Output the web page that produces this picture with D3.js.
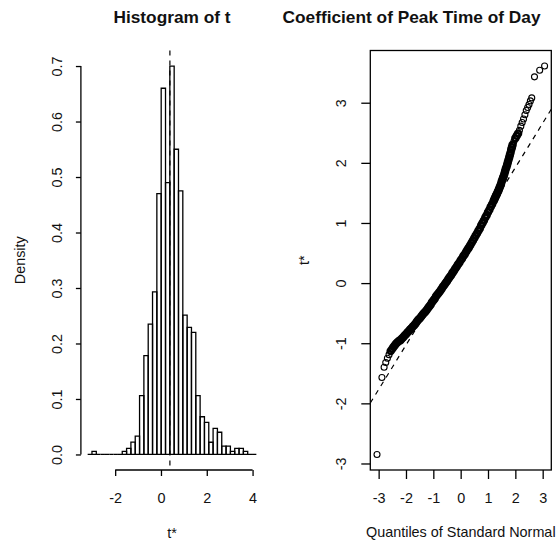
<!DOCTYPE html>
<html>
<head>
<meta charset="utf-8">
<script src="https://cdn.jsdelivr.net/npm/d3@7"></script>
<style>
  body { margin: 0; background: #fff; }
  text { font-family: "Liberation Sans", Arial, sans-serif; fill: #111; }
</style>
</head>
<body>
<svg id="chart"></svg>
<script>
// histogram of bootstrap replicates (density per bin)
const histBinStart = -3.202;
const histBinWidth = 0.1889;
const histDensity = [
  0, 0.0056, 0, 0, 0, 0, 0, 0,
  0.0056, 0.0111, 0.0223, 0.033, 0.106, 0.178, 0.235, 0.293,
  0.47, 0.66, 0.49, 0.70, 0.55, 0.475,
  0.251, 0.229, 0.22, 0.106, 0.068, 0.058, 0.022, 0.047, 0.040,
  0.015, 0.015, 0.0056, 0.011, 0.011, 0.0056, 0, 0
];
const tObserved = 0.39;
const histTicksX = [-2, 0, 2, 4];
const histTicksY = [0, 0.1, 0.2, 0.3, 0.4, 0.5, 0.6, 0.7];

// normal QQ plot: [theoretical quantile, t*]
const qqPoints = [
  [-3.06, -2.85],
  [-2.88, -1.57], [-2.80, -1.40], [-2.74, -1.32], [-2.68, -1.25], [-2.62, -1.19],
  [-2.56, -1.13], [-2.50, -1.09], [-2.45, -1.06], [-2.40, -1.03], [-2.35, -1.00],
  [-2.30, -0.98], [-2.25, -0.96],
  [-2.20, -0.95], [-2.15, -0.92], [-2.10, -0.90], [-2.05, -0.87], [-2.00, -0.85],
  [-1.95, -0.82], [-1.90, -0.80], [-1.85, -0.77], [-1.80, -0.75], [-1.75, -0.72],
  [-1.70, -0.70], [-1.65, -0.67], [-1.60, -0.64], [-1.55, -0.61], [-1.50, -0.59],
  [-1.45, -0.56], [-1.40, -0.53], [-1.35, -0.50], [-1.30, -0.48], [-1.25, -0.45],
  [-1.20, -0.42], [-1.15, -0.39], [-1.10, -0.36], [-1.05, -0.32], [-1.00, -0.29],
  [-0.95, -0.26], [-0.90, -0.22], [-0.85, -0.19], [-0.80, -0.16], [-0.75, -0.13],
  [-0.70, -0.10], [-0.65, -0.06], [-0.60, -0.03], [-0.55, 0.00], [-0.50, 0.03],
  [-0.45, 0.07], [-0.40, 0.10], [-0.35, 0.13], [-0.30, 0.17], [-0.25, 0.20],
  [-0.20, 0.24], [-0.15, 0.27], [-0.10, 0.31], [-0.05, 0.34], [0.00, 0.38],
  [0.05, 0.41], [0.10, 0.45], [0.15, 0.48], [0.20, 0.52], [0.25, 0.56],
  [0.30, 0.59], [0.35, 0.63], [0.40, 0.67], [0.45, 0.71], [0.50, 0.75],
  [0.55, 0.79], [0.60, 0.83], [0.65, 0.87], [0.70, 0.91], [0.75, 0.96],
  [0.80, 1.00], [0.85, 1.04], [0.90, 1.09], [0.95, 1.13], [1.00, 1.18],
  [1.05, 1.22], [1.10, 1.27], [1.15, 1.31], [1.20, 1.36], [1.225, 1.385],
  [1.25, 1.41], [1.275, 1.435], [1.30, 1.46], [1.325, 1.48], [1.35, 1.51],
  [1.375, 1.53], [1.40, 1.56], [1.425, 1.59], [1.45, 1.62], [1.475, 1.65],
  [1.50, 1.69], [1.525, 1.72], [1.55, 1.75], [1.575, 1.78], [1.60, 1.82],
  [1.625, 1.86], [1.65, 1.90], [1.675, 1.93], [1.70, 1.97], [1.725, 2.01],
  [1.75, 2.05], [1.775, 2.09], [1.80, 2.13], [1.825, 2.17], [1.85, 2.22],
  [1.875, 2.26], [1.90, 2.30],
  [1.95, 2.36], [2.00, 2.41], [2.05, 2.45], [2.10, 2.49], [2.15, 2.54],
  [2.20, 2.61], [2.25, 2.67], [2.30, 2.73], [2.35, 2.80], [2.40, 2.87],
  [2.45, 2.92], [2.50, 2.97], [2.55, 3.03], [2.60, 3.08],
  [2.70, 3.43], [2.89, 3.54], [3.07, 3.61]
];
// reference line: mean and sd of t*
const qqMean = 0.445;
const qqSd = 0.738;
const qqTicks = [-3, -2, -1, 0, 1, 2, 3];

const width = 556, height = 544;
const histPanel = { left: 80.9, right: 263.1, top: 50.5, bottom: 470 };
const qqPanel = { left: 370.3, right: 551.3, top: 50.5, bottom: 470 };
const labelSize = 14.4;

const svg = d3.select("#chart").attr("width", width).attr("height", height);

// R style axis range: 4% on each side
const extend = ([a, b]) => { const d = (b - a) * 0.04; return [a - d, b + d]; };
const minusSign = d => d < 0 ? "-" + Math.abs(d) : d;

// ---------- histogram ----------
const histEnd = histBinStart + histDensity.length * histBinWidth;
const xH = d3.scaleLinear()
  .domain(extend([histBinStart, histEnd]))
  .range([histPanel.left, histPanel.right]);
const yH = d3.scaleLinear()
  .domain(extend([0, d3.max(histDensity)]))
  .range([histPanel.bottom, histPanel.top]);

svg.append("g").selectAll("path")
  .data(histDensity)
  .enter().append("path")
  .attr("d", (d, i) => {
    const x0 = xH(histBinStart + i * histBinWidth);
    const x1 = xH(histBinStart + (i + 1) * histBinWidth);
    return `M${x0},${yH(0)}V${yH(d)}H${x1}V${yH(0)}Z`;
  })
  .attr("fill", "none")
  .attr("stroke", "#000")
  .attr("stroke-width", 1.3);

// observed value
svg.append("line")
  .attr("x1", xH(tObserved)).attr("x2", xH(tObserved))
  .attr("y1", histPanel.top).attr("y2", histPanel.bottom)
  .attr("stroke", "#000")
  .attr("stroke-width", 1.2)
  .attr("stroke-dasharray", "5,5");

// x axis
const hxAxis = svg.append("g")
  .attr("transform", `translate(0,${histPanel.bottom})`)
  .call(d3.axisBottom(xH).tickValues(histTicksX).tickSize(6).tickSizeOuter(0));
hxAxis.select(".domain").remove();
hxAxis.append("line")
  .attr("x1", xH(histTicksX[0])).attr("x2", xH(histTicksX[histTicksX.length - 1]))
  .attr("stroke", "#000");
hxAxis.selectAll("line").attr("stroke-width", 1.3);
hxAxis.selectAll("text")
  .attr("y", 33).attr("dy", null)
  .attr("font-size", labelSize)
  .text(minusSign);

// y axis
const hyAxis = svg.append("g")
  .attr("transform", `translate(${histPanel.left},0)`)
  .call(d3.axisLeft(yH).tickValues(histTicksY).tickSize(5).tickSizeOuter(0).tickFormat(d3.format(".1f")));
hyAxis.select(".domain").remove();
hyAxis.append("line")
  .attr("y1", yH(histTicksY[0])).attr("y2", yH(histTicksY[histTicksY.length - 1]))
  .attr("stroke", "#000");
hyAxis.selectAll("line").attr("stroke-width", 1.3);
hyAxis.selectAll("text")
  .attr("transform", "rotate(-90)")
  .attr("x", 0).attr("y", -19).attr("dy", null)
  .attr("text-anchor", "middle")
  .attr("font-size", labelSize);

svg.append("text")
  .attr("x", (histPanel.left + histPanel.right) / 2)
  .attr("y", 23)
  .attr("text-anchor", "middle")
  .attr("font-weight", "bold")
  .attr("font-size", 17.3)
  .text("Histogram of t");

svg.append("text")
  .attr("x", (histPanel.left + histPanel.right) / 2)
  .attr("y", 538)
  .attr("text-anchor", "middle")
  .attr("font-size", labelSize)
  .text("t*");

svg.append("text")
  .attr("transform", `translate(25,${(histPanel.top + histPanel.bottom) / 2}) rotate(-90)`)
  .attr("text-anchor", "middle")
  .attr("font-size", labelSize)
  .text("Density");

// ---------- normal QQ plot ----------
const xQ = d3.scaleLinear()
  .domain(extend(d3.extent(qqPoints, d => d[0])))
  .range([qqPanel.left, qqPanel.right]);
const yQ = d3.scaleLinear()
  .domain(extend(d3.extent(qqPoints, d => d[1])))
  .range([qqPanel.bottom, qqPanel.top]);

svg.append("clipPath").attr("id", "qq-clip")
  .append("rect")
  .attr("x", qqPanel.left).attr("y", qqPanel.top)
  .attr("width", qqPanel.right - qqPanel.left)
  .attr("height", qqPanel.bottom - qqPanel.top);

// dashed reference line
const [qa, qb] = xQ.domain();
svg.append("line")
  .attr("clip-path", "url(#qq-clip)")
  .attr("x1", xQ(qa)).attr("y1", yQ(qqMean + qqSd * qa))
  .attr("x2", xQ(qb)).attr("y2", yQ(qqMean + qqSd * qb))
  .attr("stroke", "#000")
  .attr("stroke-width", 1.2)
  .attr("stroke-dasharray", "5,5");

// where points pile up the circles overplot into a solid band,
// so crowded points get a heavier ring
const nearest = qqPoints.map((p, i) => {
  let best = Infinity;
  qqPoints.forEach((o, j) => {
    if (i === j) return;
    const dx = xQ(p[0]) - xQ(o[0]), dy = yQ(p[1]) - yQ(o[1]);
    best = Math.min(best, Math.hypot(dx, dy));
  });
  return best;
});

svg.append("g").selectAll("circle")
  .data(qqPoints)
  .enter().append("circle")
  .attr("cx", d => xQ(d[0]))
  .attr("cy", d => yQ(d[1]))
  .attr("r", 3)
  .attr("fill", "none")
  .attr("stroke", "#000")
  .attr("stroke-width", (d, i) => nearest[i] < 3.2 ? 2.5 : 1.1);

// frame
svg.append("rect")
  .attr("x", qqPanel.left).attr("y", qqPanel.top)
  .attr("width", qqPanel.right - qqPanel.left)
  .attr("height", qqPanel.bottom - qqPanel.top)
  .attr("fill", "none")
  .attr("stroke", "#000")
  .attr("stroke-width", 1.3);

const qxAxis = svg.append("g")
  .attr("transform", `translate(0,${qqPanel.bottom})`)
  .call(d3.axisBottom(xQ).tickValues(qqTicks).tickSize(9).tickSizeOuter(0));
qxAxis.select(".domain").remove();
qxAxis.selectAll("line").attr("stroke-width", 1.3);
qxAxis.selectAll("text")
  .attr("y", 33).attr("dy", null)
  .attr("font-size", labelSize)
  .text(minusSign);

const qyAxis = svg.append("g")
  .attr("transform", `translate(${qqPanel.left},0)`)
  .call(d3.axisLeft(yQ).tickValues(qqTicks).tickSize(9).tickSizeOuter(0));
qyAxis.select(".domain").remove();
qyAxis.selectAll("line").attr("stroke-width", 1.3);
qyAxis.selectAll("text")
  .attr("transform", "rotate(-90)")
  .attr("x", 0).attr("y", -24).attr("dy", null)
  .attr("text-anchor", "middle")
  .attr("font-size", labelSize)
  .text(minusSign);

svg.append("text")
  .attr("x", 411.5)
  .attr("y", 23)
  .attr("text-anchor", "middle")
  .attr("font-weight", "bold")
  .attr("font-size", 17.3)
  .text("Coefficient of Peak Time of Day");

svg.append("text")
  .attr("x", (qqPanel.left + qqPanel.right) / 2)
  .attr("y", 537)
  .attr("text-anchor", "middle")
  .attr("font-size", labelSize)
  .text("Quantiles of Standard Normal");

svg.append("text")
  .attr("transform", `translate(309,${(qqPanel.top + qqPanel.bottom) / 2}) rotate(-90)`)
  .attr("text-anchor", "middle")
  .attr("font-size", labelSize)
  .text("t*");
</script>
</body>
</html>
